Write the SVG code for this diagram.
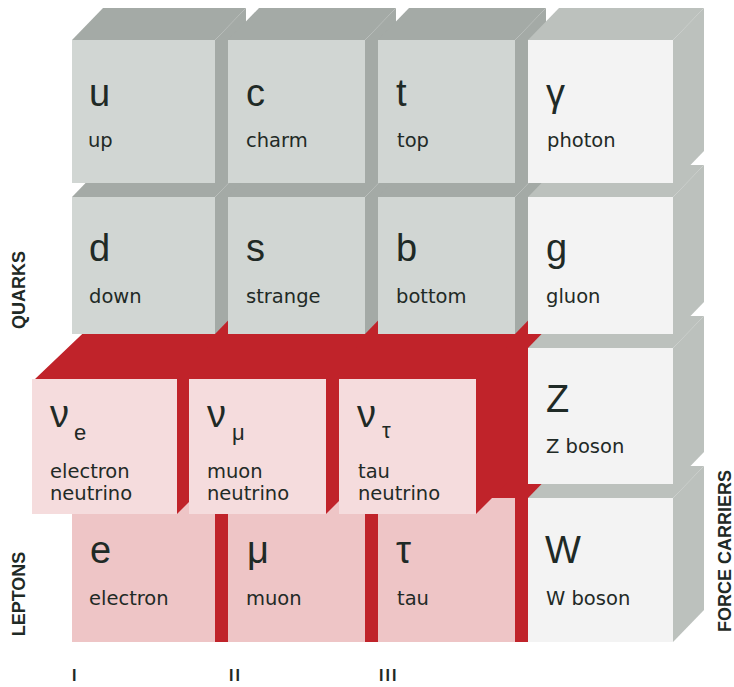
<svg xmlns="http://www.w3.org/2000/svg" width="734" height="687" viewBox="0 0 734 687">
<style>
.qf{fill:#d1d6d3}.qs{fill:#a4aaa6}
.ff{fill:#f3f3f3}.fs{fill:#bcc1bd}
.rd{fill:#c0232a}.nf{fill:#f5dcdd}.lf{fill:#eec5c6}
.sym{font-family:"Liberation Sans",Arial,sans-serif;font-size:38px;fill:#1f2a26}
.sub{font-family:"Liberation Sans",Arial,sans-serif;font-size:22px;fill:#1f2a26}
.lab{font-family:"DejaVu Sans",Verdana,sans-serif;font-size:19.5px;fill:#1f2a26}
.side{font-family:"Liberation Sans",Arial,sans-serif;font-size:18px;font-weight:bold;fill:#1f2a26;text-anchor:middle}
.num{font-family:"Liberation Sans",Arial,sans-serif;font-size:16px;font-weight:bold;fill:#1f2a26;letter-spacing:2px}
</style>
<rect width="734" height="687" fill="#ffffff"/>

<!-- red slab background -->
<polygon id="lepton-slab" class="rd" points="35,379 99,318 560,318 560,466 528,498 528,642 35,642"/>
<rect x="0" y="514" width="72" height="140" fill="#ffffff"/>
<rect x="72" y="642" width="456" height="12" fill="#ffffff"/>

<!-- charged leptons -->
<g id="electron">
<polygon class="rd" points="215,498 246,466 246,610 215,642"/>
<rect class="lf" x="72" y="498" width="143" height="144"/>
<text class="sym" x="90" y="563">e</text>
<text class="lab" x="89" y="605">electron</text>
</g>
<g id="muon">
<polygon class="rd" points="365,498 396,466 396,610 365,642"/>
<rect class="lf" x="228" y="498" width="137" height="144"/>
<text class="sym" x="247" y="563">μ</text>
<text class="lab" x="246" y="605">muon</text>
</g>
<g id="tau">
<polygon class="rd" points="515,498 546,466 546,610 515,642"/>
<rect class="lf" x="378" y="498" width="137" height="144"/>
<text class="sym" x="396" y="563">τ</text>
<text class="lab" x="397" y="605">tau</text>
</g>

<!-- quarks row 2 -->
<g id="down">
<polygon class="qs" points="72,197 103,165 246,165 215,197"/>
<polygon class="qs" points="215,197 246,165 246,302 215,334"/>
<rect class="qf" x="72" y="197" width="143" height="137"/>
<text class="sym" x="89" y="261">d</text>
<text class="lab" x="89" y="303">down</text>
</g>
<g id="strange">
<polygon class="qs" points="228,197 259,165 396,165 365,197"/>
<polygon class="qs" points="365,197 396,165 396,302 365,334"/>
<rect class="qf" x="228" y="197" width="137" height="137"/>
<text class="sym" x="246" y="261">s</text>
<text class="lab" x="246" y="303">strange</text>
</g>
<g id="bottom">
<polygon class="qs" points="378,197 409,165 546,165 515,197"/>
<polygon class="qs" points="515,197 546,165 546,302 515,334"/>
<rect class="qf" x="378" y="197" width="137" height="137"/>
<text class="sym" x="396" y="261">b</text>
<text class="lab" x="396" y="303">bottom</text>
</g>

<!-- quarks row 1 -->
<g id="up">
<polygon class="qs" points="72,40 103,8 246,8 215,40"/>
<polygon class="qs" points="215,40 246,8 246,151 215,183"/>
<rect class="qf" x="72" y="40" width="143" height="143"/>
<text class="sym" x="89" y="106">u</text>
<text class="lab" x="88" y="147">up</text>
</g>
<g id="charm">
<polygon class="qs" points="228,40 259,8 396,8 365,40"/>
<polygon class="qs" points="365,40 396,8 396,151 365,183"/>
<rect class="qf" x="228" y="40" width="137" height="143"/>
<text class="sym" x="246" y="106">c</text>
<text class="lab" x="246" y="147">charm</text>
</g>
<g id="top">
<polygon class="qs" points="378,40 409,8 546,8 515,40"/>
<polygon class="qs" points="515,40 546,8 546,151 515,183"/>
<rect class="qf" x="378" y="40" width="137" height="143"/>
<text class="sym" x="396" y="106">t</text>
<text class="lab" x="397" y="147">top</text>
</g>

<!-- force carriers -->
<g id="w-boson">
<polygon class="fs" points="528,498 559,466 704,466 673,498"/>
<polygon class="fs" points="673,498 704,466 704,610 673,642"/>
<rect class="ff" x="528" y="498" width="145" height="144"/>
<text class="sym" x="545" y="563">W</text>
<text class="lab" x="546" y="605">W boson</text>
</g>
<g id="z-boson">
<polygon class="fs" points="528,348 559,316 704,316 673,348"/>
<polygon class="fs" points="673,348 704,316 704,452 673,484"/>
<rect class="ff" x="528" y="348" width="145" height="136"/>
<text class="sym" x="546" y="412">Z</text>
<text class="lab" x="546" y="453">Z boson</text>
</g>
<g id="gluon">
<polygon class="fs" points="528,197 559,165 704,165 673,197"/>
<polygon class="fs" points="673,197 704,165 704,302 673,334"/>
<rect class="ff" x="528" y="197" width="145" height="137"/>
<text class="sym" x="546" y="261">g</text>
<text class="lab" x="546" y="303">gluon</text>
</g>
<g id="photon">
<polygon class="fs" points="528,40 559,8 704,8 673,40"/>
<polygon class="fs" points="673,40 704,8 704,151 673,183"/>
<rect class="ff" x="528" y="40" width="145" height="143"/>
<text class="sym" x="546" y="106">γ</text>
<text class="lab" x="547" y="147">photon</text>
</g>

<!-- neutrinos -->
<g id="electron-neutrino">
<polygon class="rd" points="177,379 208,347 208,483 177,514"/>
<rect class="nf" x="32" y="379" width="145" height="135"/>
<text class="sym" x="50" y="427">ν</text>
<text class="sub" x="74" y="440">e</text>
<text class="lab" x="50" y="478">electron</text>
<text class="lab" x="50" y="500">neutrino</text>
</g>
<g id="muon-neutrino">
<polygon class="rd" points="326,379 357,347 357,483 326,514"/>
<rect class="nf" x="189" y="379" width="137" height="135"/>
<text class="sym" x="207" y="427">ν</text>
<text class="sub" x="232" y="440">μ</text>
<text class="lab" x="207" y="478">muon</text>
<text class="lab" x="207" y="500">neutrino</text>
</g>
<g id="tau-neutrino">
<polygon class="rd" points="476,379 507,347 507,483 476,514"/>
<rect class="nf" x="339" y="379" width="137" height="135"/>
<text class="sym" x="357" y="427">ν</text>
<text class="sub" x="382" y="438">τ</text>
<text class="lab" x="358" y="478">tau</text>
<text class="lab" x="358" y="500">neutrino</text>
</g>

<g id="connectors"></g>

<!-- axis labels -->
<g id="labels">
<text class="side" transform="translate(25,290) rotate(-90)">QUARKS</text>
<text class="side" transform="translate(25,594) rotate(-90)">LEPTONS</text>
<text class="side" transform="translate(731,551) rotate(-90)">FORCE CARRIERS</text>
<text class="num" x="72" y="681">I</text>
<text class="num" x="229" y="681">II</text>
<text class="num" x="379" y="681">III</text>
</g>
</svg>
